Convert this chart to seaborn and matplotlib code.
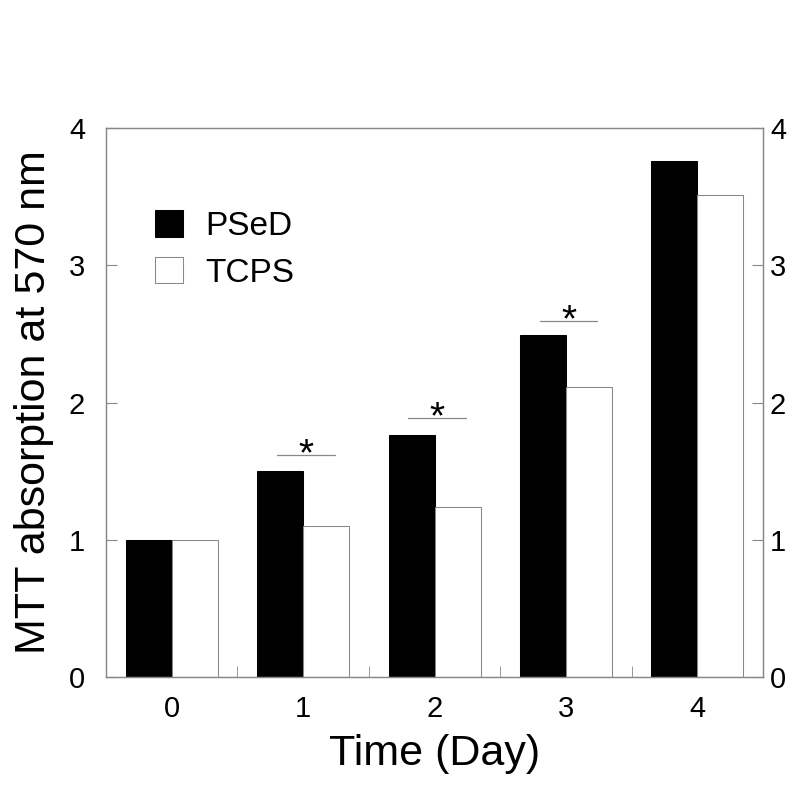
import pandas as pd
import seaborn as sns
import matplotlib.pyplot as plt
from matplotlib.patches import Patch
from matplotlib.ticker import FixedLocator

# Data
days = ["0", "1", "2", "3", "4"]
pseD = [1.00, 1.50, 1.76, 2.49, 3.76]
tcps = [1.00, 1.10, 1.24, 2.11, 3.51]
sig_days = [1, 2, 3]
sig_heights = [1.615, 1.885, 2.59]
groups = ["PSeD", "TCPS"]
y_ticks = [0, 1, 2, 3, 4]

GRAY = "#888888"

sns.set_style("white")
plt.rcParams["font.family"] = ["Liberation Sans", "DejaVu Sans"]
plt.rcParams["text.color"] = "black"
plt.rcParams["xtick.labelcolor"] = "black"
plt.rcParams["ytick.labelcolor"] = "black"
plt.rcParams["axes.labelcolor"] = "black"

df = pd.DataFrame({
    "day": days * 2,
    "value": pseD + tcps,
    "group": [groups[0]] * len(days) + [groups[1]] * len(days),
})

fig = plt.figure(figsize=(8.0, 7.87), dpi=100)
ax = fig.add_axes([0.1325, 0.1394, 0.8213, 0.6983])

sns.barplot(data=df, x="day", y="value", hue="group", order=days,
            hue_order=groups, palette={"PSeD": "black", "TCPS": "white"},
            width=0.7, gap=0, errorbar=None, ax=ax, legend=False,
            linewidth=0.75)

for bar in ax.patches:
    fc = bar.get_facecolor()
    bar.set_edgecolor("black" if fc[0] < 0.5 else GRAY)

# significance markers
for d, h in zip(sig_days, sig_heights):
    ax.plot([d - 0.2, d + 0.24], [h, h], color=GRAY, lw=0.9)
    ax.annotate("*", (d + 0.02, h), xytext=(0, -7), textcoords="offset points",
                ha="center", va="baseline", fontsize=28, color="black")

ax.set_xlim(-0.5, 4.5)
ax.set_ylim(0, 4)
ax.set_yticks(y_ticks)

for s in ax.spines.values():
    s.set_color(GRAY)
    s.set_linewidth(0.9)

ax.xaxis.set_minor_locator(FixedLocator([0.5, 1.5, 2.5, 3.5]))
ax.tick_params(axis="x", which="major", length=0, pad=13, labelsize=21)
ax.tick_params(axis="x", which="minor", direction="in", length=8,
               color=GRAY, bottom=True)
ax.tick_params(axis="y", direction="in", length=8, color=GRAY, labelsize=21,
               left=True, pad=15)

# right axis with its own tick labels
ax2 = ax.twinx()
ax2.set_ylim(ax.get_ylim())
ax2.set_yticks(y_ticks)
ax2.tick_params(axis="y", direction="in", length=8, color=GRAY, labelsize=21,
                right=True, pad=5)
for s in ax2.spines.values():
    s.set_color(GRAY)
    s.set_linewidth(0.9)

ax.set_xlabel("Time (Day)", fontsize=31, labelpad=8)
ax.set_ylabel("MTT absorption at 570 nm", fontsize=31, labelpad=11)

handles = [Patch(facecolor="black", edgecolor="black", lw=0.75),
           Patch(facecolor="white", edgecolor=GRAY, lw=0.75)]
ax.legend(handles, groups, loc="upper left", bbox_to_anchor=(0.054, 0.875),
          frameon=False, fontsize=24, handlelength=0.86, handleheight=0.86,
          handletextpad=0.65, labelspacing=0.45, borderaxespad=0)

fig.savefig("out.png", dpi=100)
